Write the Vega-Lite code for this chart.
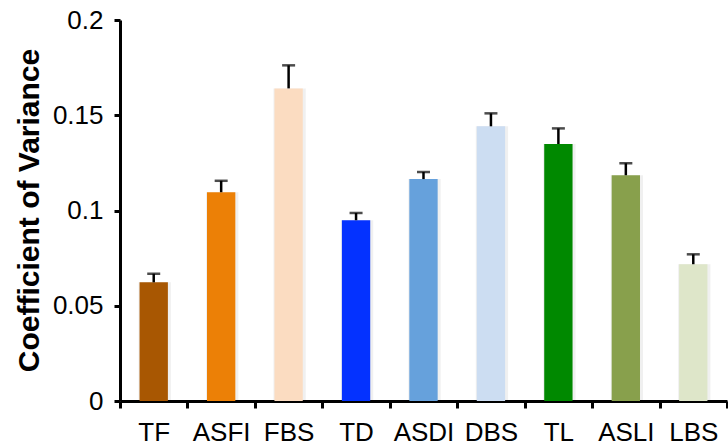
{
  "$schema": "https://vega.github.io/schema/vega-lite/v6.json",
  "width": 607,
  "height": 381,
  "autosize": {"type": "none"},
  "padding": {"left": 120, "top": 20, "right": 1, "bottom": 46},
  "background": "white",
  "config": {
    "view": {"stroke": null},
    "font": "Liberation Sans",
    "axis": {"grid": false, "domainColor": "black", "tickColor": "black", "labelColor": "black", "titleColor": "black"}
  },
  "data": {
    "values": [
      {"sample": "TF", "cv": 0.0623, "upper": 0.0668},
      {"sample": "ASFI", "cv": 0.1096, "upper": 0.1156},
      {"sample": "FBS", "cv": 0.1641, "upper": 0.1762},
      {"sample": "TD", "cv": 0.0949, "upper": 0.0987},
      {"sample": "ASDI", "cv": 0.1165, "upper": 0.1202},
      {"sample": "DBS", "cv": 0.1442, "upper": 0.1510},
      {"sample": "TL", "cv": 0.1349, "upper": 0.1431},
      {"sample": "ASLI", "cv": 0.1185, "upper": 0.1248},
      {"sample": "LBS", "cv": 0.0718, "upper": 0.0770}
    ]
  },
  "encoding": {
    "x": {
      "field": "sample",
      "type": "nominal",
      "sort": null,
      "scale": {"paddingInner": 0, "paddingOuter": 0},
      "axis": {
        "title": null,
        "labelAngle": 0,
        "tickBand": "extent",
        "domainWidth": 3,
        "tickWidth": 3,
        "tickSize": 7,
        "labelFontSize": 26,
        "labelPadding": 11
      }
    }
  },
  "layer": [
    {
      "mark": {"type": "bar", "width": {"band": 0.48}, "color": "#000000", "opacity": 0.06, "xOffset": 1},
      "encoding": {
        "y": {
          "field": "cv",
          "type": "quantitative",
          "scale": {"domain": [0, 0.2], "nice": false},
          "axis": {
            "title": "Coefficient of Variance",
            "values": [0, 0.05, 0.1, 0.15, 0.2],
            "format": ".2~f",
            "labelFontSize": 26,
            "labelPadding": 11,
            "tickSize": 6,
            "tickWidth": 3,
            "domainWidth": 3,
            "titleFontSize": 30,
            "titleFontWeight": "bold",
            "titleAngle": 270,
            "titleAlign": "center",
            "titleBaseline": "alphabetic",
            "titleX": -82,
            "titleY": 190
          }
        }
      }
    },
    {
      "mark": {"type": "bar", "width": {"band": 0.42}},
      "encoding": {
        "y": {"field": "cv", "type": "quantitative"},
        "color": {
          "field": "sample",
          "type": "nominal",
          "sort": null,
          "legend": null,
          "scale": {
            "domain": ["TF", "ASFI", "FBS", "TD", "ASDI", "DBS", "TL", "ASLI", "LBS"],
            "range": ["#A85702", "#EC8006", "#FBDCC1", "#0432FF", "#66A1DC", "#CCDDF2", "#008900", "#88A04C", "#DEE6C9"]
          }
        }
      }
    },
    {
      "mark": {"type": "rule", "color": "black", "strokeWidth": 2.5},
      "encoding": {
        "y": {"field": "cv", "type": "quantitative"},
        "y2": {"field": "upper"}
      }
    },
    {
      "mark": {"type": "tick", "color": "black", "thickness": 2.5, "size": 13},
      "encoding": {
        "y": {"field": "upper", "type": "quantitative"}
      }
    }
  ]
}
